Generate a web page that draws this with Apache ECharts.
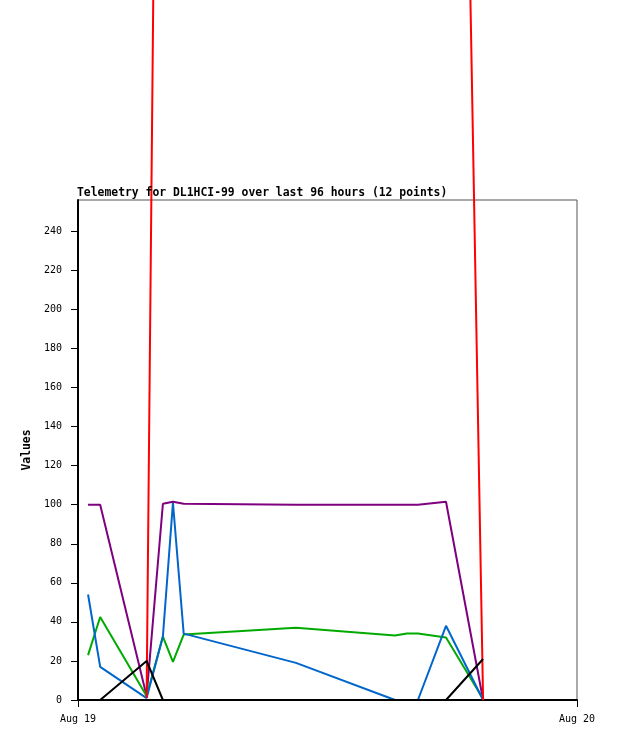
<!DOCTYPE html>
<html>
<head>
<meta charset="utf-8">
<script src="https://cdn.jsdelivr.net/npm/echarts@6/dist/echarts.min.js"></script>
<style>
  html, body { margin: 0; padding: 0; background: #fff; }
  #main { width: 618px; height: 741px; }
</style>
</head>
<body>
<div id="main"></div>
<script>
// sample times on Aug 19 (HH:MM)
var times = ['00:29', '01:04', '03:18', '04:05', '04:34', '05:05',
             '10:29', '15:15', '15:49', '16:21', '17:42', '19:29'];

// series values
var redVals    = [null, null, 1, 880, 1000, 1000, 1000, 1000, 1000, 1000, 1050, 0];
var purpleVals = [100, 100, 2, 100.5, 101.5, 100.5, 100, 100, 100, 100, 101.5, 0];
var greenVals  = [23, 42.5, 2, 32.5, 19.5, 33.5, 37, 33, 34, 34, 32, 0.5];
var blueVals   = [54, 17, 1, 32.5, 101, 34, 19, 0, 0, 0, 38, 0];
var blackVals  = [0, 0, 20, 0, 0, 0, 0, 0, 0, 0, 0, 21];

var yTicks = [0, 20, 40, 60, 80, 100, 120, 140, 160, 180, 200, 220, 240];
var xTicks = [0, 24];
var xTickLabels = ['Aug 19', 'Aug 20'];

function toHours(t) {
    var p = t.split(':');
    return +p[0] + (+p[1]) / 60;
}
function pairs(vals) {
    var out = [];
    for (var i = 0; i < times.length; i++) {
        out.push([toHours(times[i]), vals[i] === null ? '-' : vals[i]]);
    }
    return out;
}

var mono = 'DejaVu Sans Mono';
function line(name, vals, color, noClip) {
    return {
        name: name,
        type: 'line',
        data: pairs(vals),
        symbol: 'none',
        clip: !noClip,
        connectNulls: false,
        lineStyle: { color: color, width: 2 },
        itemStyle: { color: color }
    };
}

var chart = echarts.init(document.getElementById('main'));
chart.setOption({
    animation: false,
    title: {
        text: 'Telemetry for DL1HCI-99 over last 96 hours (12 points)',
        left: 72, top: 183,
        textStyle: { fontFamily: mono, fontSize: 11.4, fontWeight: 'bold', color: '#000' }
    },
    grid: {
        left: 78, top: 200, right: 41, bottom: 41,
        show: true, borderColor: '#555', borderWidth: 1, backgroundColor: 'transparent'
    },
    xAxis: {
        type: 'value', min: 0, max: 24,
        axisLine: { lineStyle: { color: '#000', width: 2 } },
        axisTick: { show: true, length: 7, lineStyle: { color: '#000' }, customValues: xTicks },
        axisLabel: {
            customValues: xTicks, margin: 14,
            fontFamily: mono, fontSize: 10, color: '#000',
            formatter: function (v) { return xTickLabels[xTicks.indexOf(v)] || ''; }
        },
        splitLine: { show: false }
    },
    yAxis: {
        type: 'value', min: 0, max: 256,
        name: 'Values', nameLocation: 'middle', nameRotate: 90, nameGap: 37,
        nameTextStyle: { fontFamily: mono, fontSize: 11.4, fontWeight: 'bold', color: '#000' },
        axisLine: { show: true, lineStyle: { color: '#000', width: 2 } },
        axisTick: { show: true, length: 7, lineStyle: { color: '#000' }, customValues: yTicks },
        axisLabel: { customValues: yTicks, margin: 16, fontFamily: mono, fontSize: 10, color: '#000' },
        splitLine: { show: false }
    },
    series: [
        line('purple', purpleVals, '#7f007f'),
        line('green', greenVals, '#00aa00'),
        line('blue', blueVals, '#0066cc'),
        line('red', redVals, '#ff0000', true),
        line('black', blackVals, '#000000')
    ]
});
</script>
</body>
</html>
